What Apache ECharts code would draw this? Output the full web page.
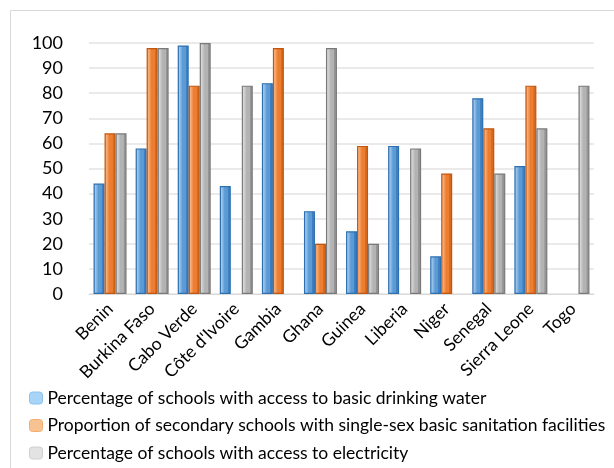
<!DOCTYPE html>
<html>
<head>
<meta charset="utf-8">
<script src="https://cdn.jsdelivr.net/npm/echarts@6/dist/echarts.min.js"></script>
<style>
html,body{margin:0;padding:0;background:#fff;}
#chart{width:614px;height:468px;}
</style>
</head>
<body>
<div id="chart"></div>
<script>
const categories = ["Benin","Burkina Faso","Cabo Verde","Côte d'Ivoire","Gambia","Ghana","Guinea","Liberia","Niger","Senegal","Sierra Leone","Togo"];
const seriesNames = [
  "Percentage of schools with access to basic drinking water",
  "Proportion of secondary schools with single-sex basic sanitation facilities",
  "Percentage of schools with access to electricity"
];
const drinkingWater = [44, 58, 99, 43, 84, 33, 25, 59, 15, 78, 51, null];
const sanitation    = [64, 98, 83, null, 98, 20, 59, null, 48, 66, 83, null];
const electricity   = [64, 98, 100, 83, null, 98, 20, 58, null, 48, 66, 83];
const yTicks = [0, 10, 20, 30, 40, 50, 60, 70, 80, 90, 100];

function grad(dark, light, mid, side) {
  return new echarts.graphic.LinearGradient(0, 0, 1, 0, [
    {offset: 0, color: dark},
    {offset: 0.12, color: light},
    {offset: 0.45, color: mid},
    {offset: 0.72, color: mid},
    {offset: 0.75, color: side},
    {offset: 1, color: side}
  ]);
}
const styles = [
  {color: grad('#2e75b6', '#a9cdf0', '#5b9bd5', '#3f80c4'), borderColor: '#2e6fb0', legend: '#a8d4f8', legendBorder: '#8cc2ee'},
  {color: grad('#c55a11', '#fbb784', '#ed7d31', '#d66a1e'), borderColor: '#c0560f', legend: '#f9c391', legendBorder: '#f4ad70'},
  {color: grad('#7f7f7f', '#dcdcdc', '#b3b3b3', '#959595'), borderColor: '#7a7a7a', legend: '#e3e3e3', legendBorder: '#d0d0d0'}
];
const dataSets = [drinkingWater, sanitation, electricity];

const chart = echarts.init(document.getElementById('chart'), null, {renderer: 'canvas'});
const option = {
  animation: false,
  backgroundColor: '#fff',
  textStyle: {fontFamily: 'Lato'},
  graphic: [{
    type: 'rect', shape: {x: 10.5, y: 10.5, width: 640, height: 500},
    style: {fill: 'none', stroke: '#d9d9d9', lineWidth: 1}, silent: true
  }],
  grid: {left: 89, right: 20, top: 43, bottom: 174},
  legend: {
    orient: 'vertical', left: 29, top: 388, itemWidth: 13, itemHeight: 12, itemGap: 7.5,
    padding: 0,
    textStyle: {fontFamily: 'Lato', fontSize: 17.5, lineHeight: 20, color: '#000'},
    data: seriesNames.map((n, i) => ({name: n, icon: 'roundRect', itemStyle: {color: styles[i].legend, borderColor: styles[i].legendBorder, borderWidth: 1}}))
  },
  xAxis: {
    type: 'category', data: categories,
    axisLine: {show: true, lineStyle: {color: '#d9d9d9', width: 1}},
    axisTick: {show: false},
    axisLabel: {rotate: 45, interval: 0, fontFamily: 'Lato', fontSize: 17.5, color: '#000', margin: 12}
  },
  yAxis: {
    type: 'value', min: 0, max: 100, interval: 10,
    axisLine: {show: false}, axisTick: {show: false},
    splitLine: {lineStyle: {color: '#e3e3e3', width: 1.5}},
    axisLabel: {fontFamily: 'Lato', fontSize: 18, color: '#000', margin: 26,
      formatter: v => yTicks.includes(v) ? String(v) : ''}
  },
  series: dataSets.map((d, i) => ({
    name: seriesNames[i], type: 'bar', data: d,
    barWidth: 11, barGap: '0%',
    itemStyle: {color: styles[i].color, borderColor: styles[i].borderColor, borderWidth: 1.2}
  }))
};
chart.setOption(option);
</script>
</body>
</html>
